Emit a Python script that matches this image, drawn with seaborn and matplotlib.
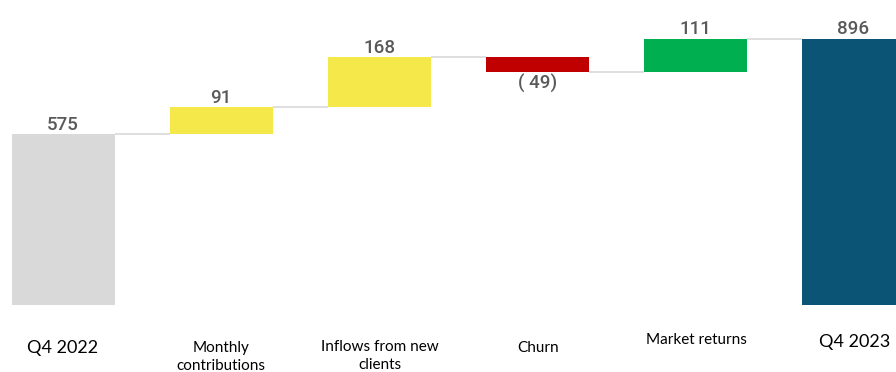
import numpy as np
import pandas as pd
import seaborn as sns
import matplotlib.pyplot as plt

categories = ['Q4 2022', 'Monthly contributions', 'Inflows from new clients',
              'Churn', 'Market returns', 'Q4 2023']
tick_labels = ['Q4 2022', 'Monthly\ncontributions', 'Inflows from new\nclients',
               'Churn', 'Market returns', 'Q4 2023']
changes = [575, 91, 168, -49, 111, 896]
is_total = [True, False, False, False, False, True]
colors = ['#d9d9d9', '#f5e84a', '#f5e84a', '#c00000', '#00b050', '#0b5475']

# running totals for the waterfall
ends = []
run = 0
for v, tot in zip(changes, is_total):
    run = v if tot else run + v
    ends.append(run)
starts = [0 if tot else e - v for e, v, tot in zip(ends, changes, is_total)]
bottoms = [min(s, e) for s, e in zip(starts, ends)]
heights = [abs(e - s) for s, e in zip(starts, ends)]

df = pd.DataFrame({'cat': categories, 'h': heights, 'b': bottoms})

sns.set_style('white')
plt.rcParams['font.family'] = ['Lato', 'DejaVu Sans']

fig = plt.figure(figsize=(8.96, 3.72), dpi=100)
ax = fig.add_axes([0, 67 / 372, 1, 305 / 372])
sns.barplot(data=df, x='cat', y='h', bottom=df['b'].values, order=categories,
            color='gray', width=0.65, linewidth=0, ax=ax)
for p, c in zip(ax.patches, colors):
    p.set_facecolor(c)

# connectors
w = 0.65
for i in range(len(categories) - 1):
    ax.hlines(ends[i], i + w / 2, i + 1 - w / 2, color='#d9d9d9', lw=1.2, zorder=0)

# value labels
for i, (v, e, b, h) in enumerate(zip(changes, ends, bottoms, heights)):
    if v < 0:
        ax.annotate(f'( {abs(v)})', (i, b), xytext=(0, -1.5), textcoords='offset points',
                    ha='center', va='top', fontsize=13.5, color='#595959',
                    family=['Roboto', 'DejaVu Sans'], fontweight='medium')
    else:
        ax.annotate(f'{v}', (i, b + h), xytext=(0, 0.5), textcoords='offset points',
                    ha='center', va='bottom', fontsize=13.5, color='#595959',
                    family=['Roboto', 'DejaVu Sans'], fontweight='medium')

# category labels at varying heights, as in the source
label_y = [348, 357, 356, 348, 340, 342]
label_fs = [13, 11, 11, 11, 11, 13]
for i, (lab, yy, fs) in enumerate(zip(tick_labels, label_y, label_fs)):
    fig.text((63 + 158.3 * i) / 896, 1 - yy / 372, lab, ha='center', va='center',
             fontsize=fs, color='black', linespacing=1.35)

ax.set_xlim(-0.4, 5.27)
ax.set_ylim(0, 305 / 0.297)
ax.set_xticks([])
ax.set_yticks([])
ax.set_xlabel('')
ax.set_ylabel('')
sns.despine(ax=ax, left=True, bottom=True)

fig.savefig('out.png', dpi=100)
